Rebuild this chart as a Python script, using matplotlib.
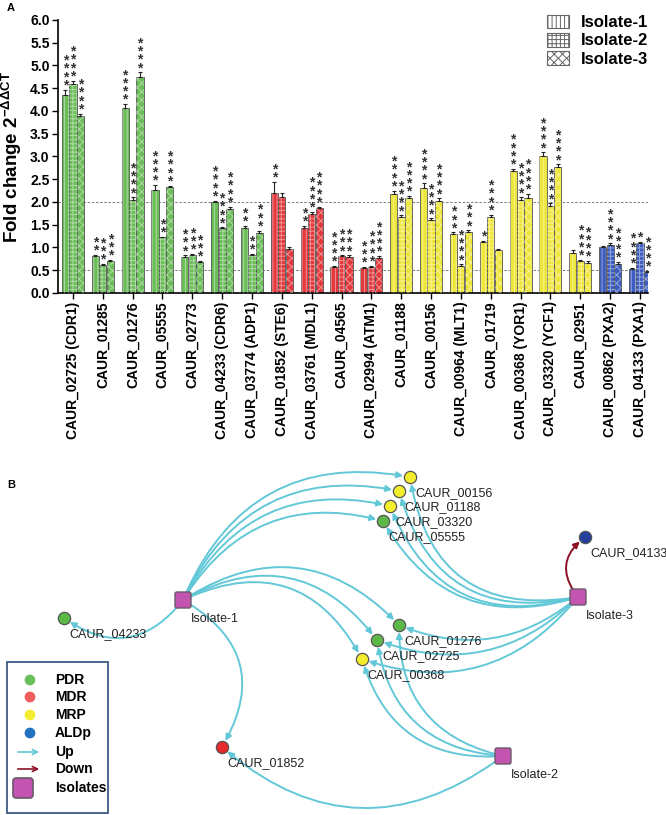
import matplotlib
matplotlib.use("Agg")
import matplotlib.pyplot as plt
import numpy as np
from matplotlib.patches import Patch, FancyArrowPatch, FancyBboxPatch, Rectangle

plt.rcParams['font.family'] = ['Liberation Sans', 'DejaVu Sans']
plt.rcParams['mathtext.fontset'] = 'custom'
plt.rcParams['mathtext.rm'] = 'Liberation Sans'
plt.rcParams['mathtext.bf'] = 'Liberation Sans:bold'
plt.rcParams['hatch.linewidth'] = 0.7

# ---- panel A data ----
genes = ['CAUR_02725 (CDR1)', 'CAUR_01285', 'CAUR_01276', 'CAUR_05555', 'CAUR_02773',
         'CAUR_04233 (CDR6)', 'CAUR_03774 (ADP1)', 'CAUR_01852 (STE6)', 'CAUR_03761 (MDL1)',
         'CAUR_04565', 'CAUR_02994 (ATM1)', 'CAUR_01188', 'CAUR_00156', 'CAUR_00964 (MLT1)',
         'CAUR_01719', 'CAUR_00368 (YOR1)', 'CAUR_03320 (YCF1)', 'CAUR_02951',
         'CAUR_00862 (PXA2)', 'CAUR_04133 (PXA1)']
family = ['PDR'] * 7 + ['MDR'] * 4 + ['MRP'] * 7 + ['ALDp'] * 2

iso1 = [4.35, 0.82, 4.07, 2.27, 0.80, 2.00, 1.43, 2.20, 1.43, 0.57, 0.55, 2.17, 2.31, 1.30, 1.12, 2.68, 3.01, 0.88, 1.01, 0.52]
iso2 = [4.60, 0.62, 2.05, 1.22, 0.84, 1.42, 0.84, 2.11, 1.73, 0.81, 0.57, 1.68, 1.60, 0.60, 1.68, 2.04, 1.92, 0.70, 1.05, 1.09]
iso3 = [3.90, 0.70, 4.75, 2.32, 0.68, 1.84, 1.32, 0.96, 1.86, 0.80, 0.77, 2.09, 2.02, 1.34, 0.95, 2.08, 2.77, 0.66, 0.64, 0.46]

err1 = [0.12, 0.02, 0.08, 0.10, 0.03, 0.03, 0.05, 0.25, 0.05, 0.02, 0.02, 0.08, 0.10, 0.03, 0.03, 0.05, 0.08, 0.07, 0.02, 0.03]
err2 = [0.07, 0.02, 0.05, 0.02, 0.02, 0.02, 0.02, 0.08, 0.05, 0.02, 0.03, 0.03, 0.04, 0.03, 0.04, 0.06, 0.05, 0.03, 0.04, 0.03]
err3 = [0.04, 0.03, 0.10, 0.04, 0.02, 0.06, 0.05, 0.04, 0.04, 0.03, 0.04, 0.04, 0.06, 0.04, 0.02, 0.10, 0.06, 0.04, 0.04, 0.02]

# number of significance stars above each bar
stars1 = [4, 2, 4, 4, 3, 4, 2, 2, 2, 4, 3, 4, 4, 3, 1, 4, 4, 0, 0, 4]
stars2 = [4, 3, 4, 2, 3, 4, 2, 0, 4, 3, 4, 4, 4, 4, 4, 4, 4, 4, 4, 1]
stars3 = [4, 3, 4, 4, 3, 4, 3, 0, 4, 3, 4, 4, 4, 3, 0, 4, 4, 4, 4, 4]

isolates = ['Isolate-1', 'Isolate-2', 'Isolate-3']
hatches = ['||||', '++++', 'xxxx']
fam_colors = {'PDR': '#6bbd58', 'MDR': '#e3383c', 'MRP': '#efe63a', 'ALDp': '#3d5cbf'}

# ---- panel B data (node layout in picture pixels) ----
node_pos = {
    'Isolate-1': (183, 600), 'Isolate-2': (503, 756), 'Isolate-3': (578, 597),
    'CAUR_00156': (410, 477), 'CAUR_01188': (399, 491), 'CAUR_03320': (390, 506),
    'CAUR_05555': (383, 521), 'CAUR_04133': (585, 537), 'CAUR_01276': (399, 625),
    'CAUR_02725': (377, 640), 'CAUR_00368': (362, 659), 'CAUR_04233': (64, 618),
    'CAUR_01852': (222, 747),
}
node_type = {
    'CAUR_00156': 'MRP', 'CAUR_01188': 'MRP', 'CAUR_03320': 'MRP', 'CAUR_05555': 'PDR',
    'CAUR_04133': 'ALDp', 'CAUR_01276': 'PDR', 'CAUR_02725': 'PDR', 'CAUR_00368': 'MRP',
    'CAUR_04233': 'PDR', 'CAUR_01852': 'MDR',
}
# (source, target, direction, curvature)
edges = [
    ('Isolate-1', 'CAUR_00156', 'up', -0.40), ('Isolate-1', 'CAUR_01188', 'up', -0.39),
    ('Isolate-1', 'CAUR_03320', 'up', -0.38), ('Isolate-1', 'CAUR_05555', 'up', -0.37),
    ('Isolate-1', 'CAUR_01276', 'up', -0.41), ('Isolate-1', 'CAUR_02725', 'up', -0.43),
    ('Isolate-1', 'CAUR_00368', 'up', -0.47), ('Isolate-1', 'CAUR_04233', 'up', -0.47),
    ('Isolate-1', 'CAUR_01852', 'up', -0.50),
    ('Isolate-3', 'CAUR_00156', 'up', -0.50), ('Isolate-3', 'CAUR_01188', 'up', -0.47),
    ('Isolate-3', 'CAUR_03320', 'up', -0.45), ('Isolate-3', 'CAUR_05555', 'up', -0.40),
    ('Isolate-3', 'CAUR_01276', 'up', -0.30), ('Isolate-3', 'CAUR_02725', 'up', -0.32),
    ('Isolate-3', 'CAUR_00368', 'up', -0.35), ('Isolate-3', 'CAUR_04133', 'down', -0.50),
    ('Isolate-2', 'CAUR_01276', 'up', -0.40), ('Isolate-2', 'CAUR_02725', 'up', -0.40),
    ('Isolate-2', 'CAUR_00368', 'up', -0.40), ('Isolate-2', 'CAUR_01852', 'up', -0.40),
]
node_colors = {'PDR': '#5cb947', 'MDR': '#e62a2c', 'MRP': '#f4ed2e', 'ALDp': '#23409c'}
legend_colors = {'PDR': '#6cbf5a', 'MDR': '#ef5d5d', 'MRP': '#f3ec30', 'ALDp': '#2270c0'}
edge_colors = {'up': '#62c8d8', 'down': '#8c1024'}
iso_color = '#c355b0'

fig = plt.figure(figsize=(6.66, 8.15), dpi=100)

# ================= Panel A =================
W, H = 666, 815
ax = fig.add_axes([58 / W, 1 - 293 / H, 590 / W, 273 / H])
x = np.arange(len(genes))
bw = 0.24
offs = [-0.25, 0, 0.25]
cols = [fam_colors[f] for f in family]
for vals, errs, stars, hatch, off in zip([iso1, iso2, iso3], [err1, err2, err3],
                                         [stars1, stars2, stars3], hatches, offs):
    ax.bar(x + off, vals, bw, color=cols, edgecolor='#555555', linewidth=0.6, zorder=2)
    ax.bar(x + off, vals, bw, facecolor='none', edgecolor=(1, 1, 1, 0.45), linewidth=0,
           hatch=hatch, zorder=3)
    ax.errorbar(x + off, vals, yerr=[np.zeros(len(vals)), errs], fmt='none', ecolor='#222222',
                elinewidth=0.8, capsize=1.5, capthick=0.8, zorder=4)
    for xi, v, e, n in zip(x + off, vals, errs, stars):
        if n == 0:
            continue
        ax.annotate('\n'.join(['*'] * n), (xi, v + e), xytext=(0, -2), textcoords='offset points',
                    ha='center', va='bottom', fontsize=10, linespacing=0.48, color='#333333',
                    fontweight='bold')

for lvl in [2.0, 0.5]:
    ax.axhline(lvl, color='#666666', linestyle=(0, (3, 2)), linewidth=0.6, zorder=1)

ax.set_ylim(0, 6.0)
ax.set_xlim(-0.5, 19.27)
ax.set_yticks(np.arange(0, 6.01, 0.5))
ax.set_yticklabels([f'{v:.1f}' for v in np.arange(0, 6.01, 0.5)], fontsize=10, fontweight='bold')
ax.set_xticks(x)
ax.set_xticklabels(genes, rotation=90, fontsize=10, fontweight='bold')
ax.spines['top'].set_visible(False)
ax.spines['right'].set_visible(False)
ax.spines['left'].set_linewidth(1.2)
ax.spines['bottom'].set_linewidth(1.2)
ax.tick_params(axis='both', direction='out', length=4, width=1.0, pad=2)
ax.set_ylabel(r'Fold change 2$^{\mathbf{-ΔΔCT}}$', fontsize=13.5, fontweight='bold')
ax.yaxis.set_label_coords(-0.058, 0.5)

handles = [Patch(facecolor='white', edgecolor='#666666', hatch=h, linewidth=0.8) for h in hatches]
ax.legend(handles, isolates, loc='upper right', bbox_to_anchor=(1.0, 1.02), frameon=False,
          prop={'weight': 'bold', 'size': 12}, handlelength=1.3, handleheight=0.9,
          handletextpad=0.7, labelspacing=0.15, borderpad=0, borderaxespad=0)
fig.text(7 / W, 1 - 8 / H, 'A', fontsize=8, fontweight='bold', va='center')

# ================= Panel B =================
bx = fig.add_axes([0, 0, 1, 372 / H])
bx.set_xlim(0, W)
bx.set_ylim(H, 443)
bx.axis('off')
bx.text(7, 485, 'B', fontsize=8, fontweight='bold', va='center')

for src, dst, kind, rad in edges:
    arr = FancyArrowPatch(node_pos[src], node_pos[dst], connectionstyle=f'arc3,rad={rad}',
                          arrowstyle='-|>', mutation_scale=9, color=edge_colors[kind],
                          linewidth=1.4, shrinkA=6, shrinkB=5, zorder=2)
    bx.add_patch(arr)

for name, (nx, ny) in node_pos.items():
    if name.startswith('Isolate'):
        sq = FancyBboxPatch((nx - 8, ny - 8), 16, 16, boxstyle='round,pad=0,rounding_size=2',
                            facecolor=iso_color, edgecolor='#6a5a6a', linewidth=1.0, zorder=4)
        bx.add_patch(sq)
        bx.text(nx + 8, ny + 19, name, fontsize=9, color='#222222', ha='left', va='center', zorder=5)
    else:
        bx.scatter([nx], [ny], s=78, color=node_colors[node_type[name]], edgecolor='#555555',
                   linewidth=0.9, zorder=4)
        bx.text(nx + 5, ny + 16, name, fontsize=9, color='#222222', ha='left', va='center', zorder=5)

# legend box of panel B
bx.add_patch(Rectangle((7, 662), 101, 151, facecolor='white', edgecolor='#3e5c83',
                       linewidth=1.3, zorder=5))
leg_items = ['PDR', 'MDR', 'MRP', 'ALDp']
leg_y = [680, 697, 715, 733]
for lab, ly in zip(leg_items, leg_y):
    bx.scatter([30], [ly], s=60, color=legend_colors[lab], edgecolor='none', zorder=6)
    bx.text(55, ly, lab, fontsize=10, fontweight='bold', va='center', zorder=6)
for lab, ly, kind in [('Up', 752, 'up'), ('Down', 769, 'down')]:
    bx.add_patch(FancyArrowPatch((15, ly), (42, ly), arrowstyle='->', mutation_scale=9,
                                 color=edge_colors[kind], linewidth=1.2, zorder=6))
    bx.text(55, ly, lab, fontsize=10, fontweight='bold', va='center', zorder=6)
bx.add_patch(FancyBboxPatch((13, 778), 20, 20, boxstyle='round,pad=0,rounding_size=3',
                            facecolor=iso_color, edgecolor='#6a5a6a', linewidth=1.2, zorder=6))
bx.text(55, 788, 'Isolates', fontsize=10, fontweight='bold', va='center', zorder=6)

fig.savefig('out.png', dpi=100)
